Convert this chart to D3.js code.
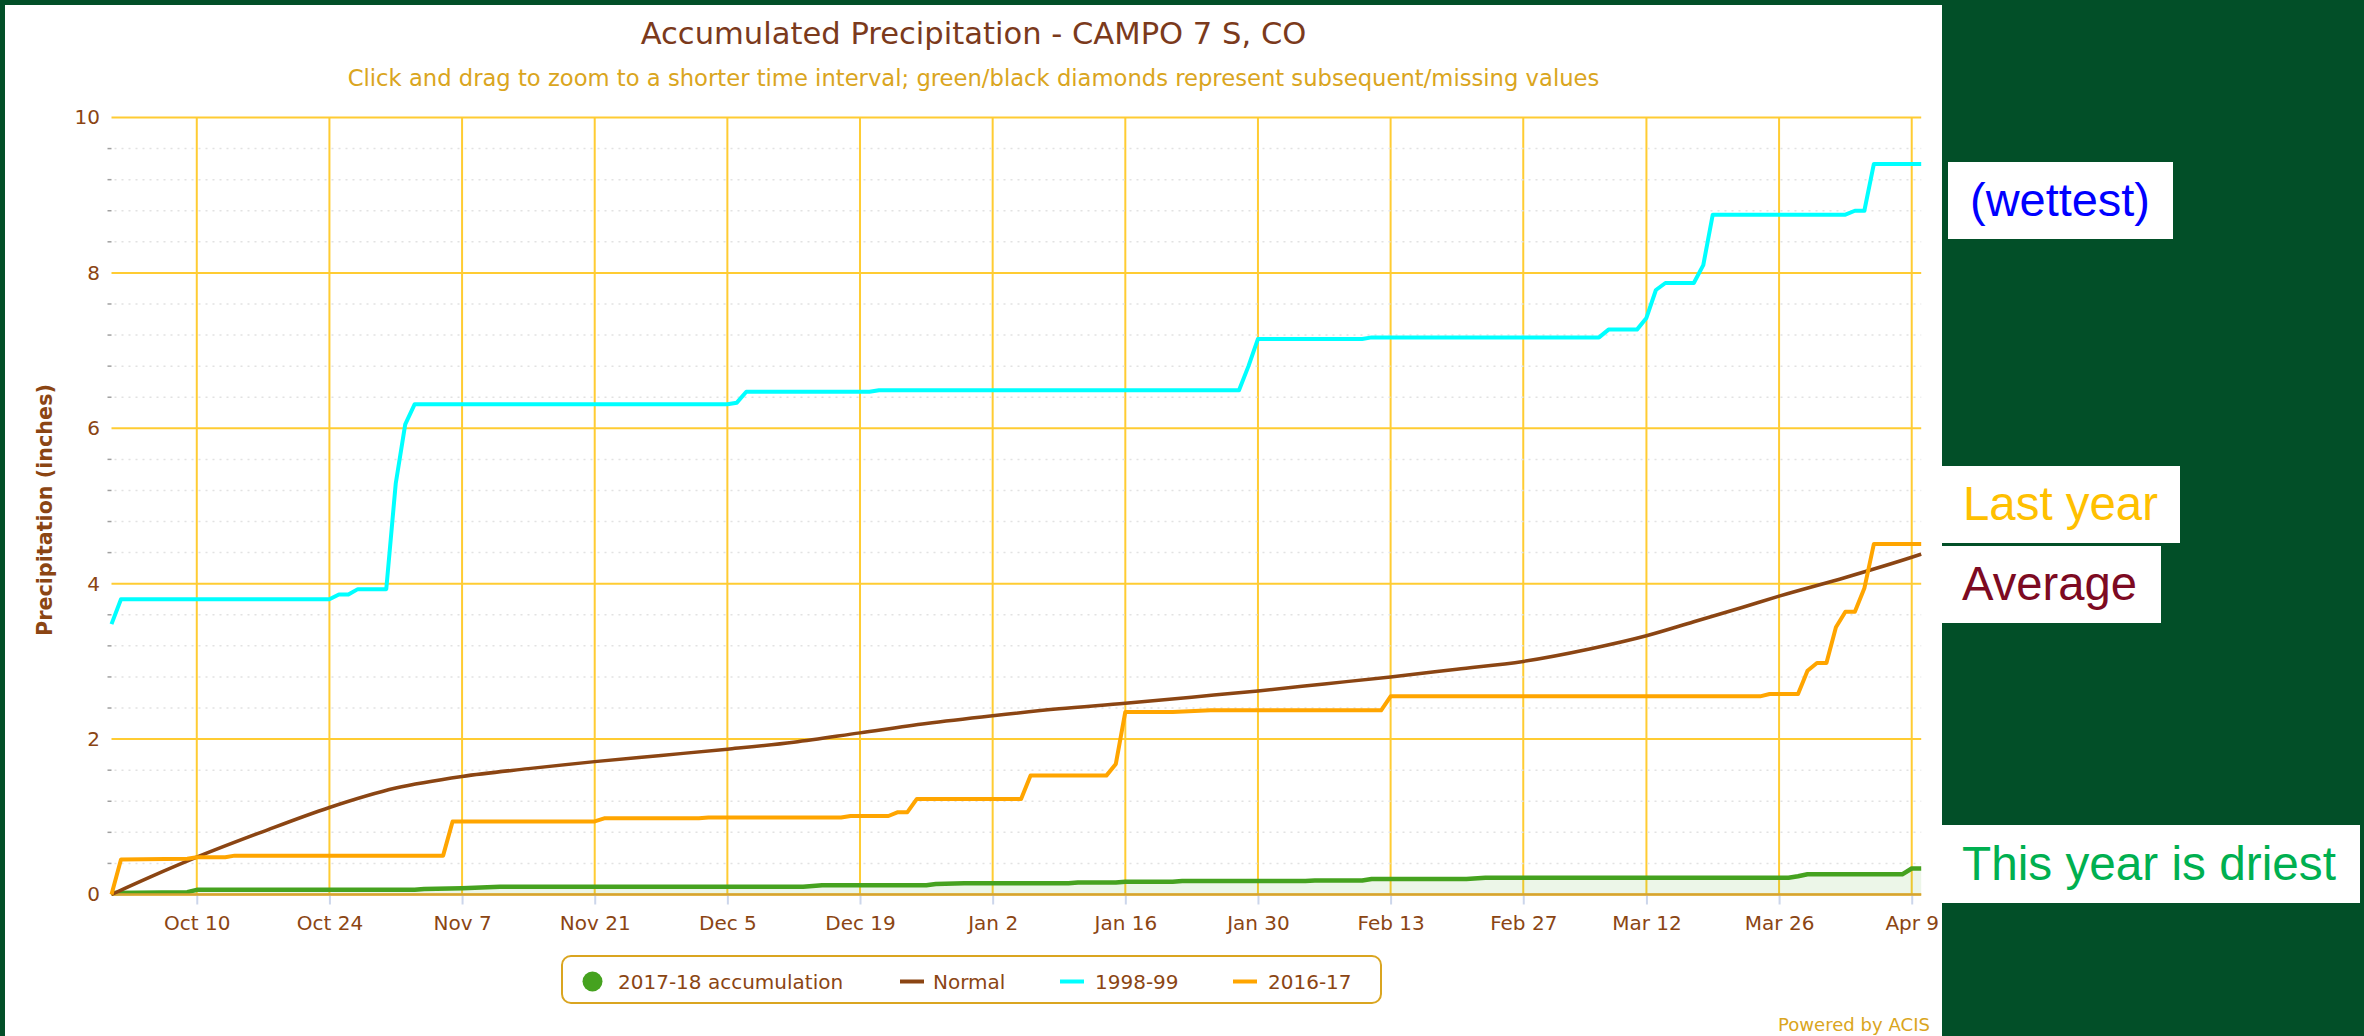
<!DOCTYPE html>
<html><head><meta charset="utf-8">
<script src="https://cdn.jsdelivr.net/npm/d3@7"></script>
<style>html,body{margin:0;padding:0;background:#024f28;} svg{display:block;}</style>
</head><body>
<svg id="c" width="2364" height="1036"></svg>
<script>
// ---------- data ----------
const seasonStart = "2017-10-01";
const seasonEnd   = "2018-04-10";
const tickDates = ["2017-10-10","2017-10-24","2017-11-07","2017-11-21","2017-12-05","2017-12-19",
  "2018-01-02","2018-01-16","2018-01-30","2018-02-13","2018-02-27","2018-03-12","2018-03-26","2018-04-09"];
const yTicks = [0, 2, 4, 6, 8, 10];
const yMinorStep = 0.4;
const seriesNames = ["2017-18 accumulation", "Normal", "1998-99", "2016-17"];

const thisYear = [["2017-10-01",0.02],["2017-10-09",0.03],["2017-10-10",0.06],["2017-11-02",0.06],
  ["2017-11-03",0.07],["2017-11-07",0.08],["2017-11-09",0.09],["2017-11-11",0.10],["2017-12-13",0.10],
  ["2017-12-15",0.12],["2017-12-26",0.12],["2017-12-27",0.135],["2017-12-30",0.145],["2018-01-10",0.145],
  ["2018-01-11",0.155],["2018-01-15",0.155],["2018-01-16",0.165],["2018-01-21",0.165],["2018-01-22",0.175],
  ["2018-02-04",0.175],["2018-02-05",0.18],["2018-02-10",0.18],["2018-02-11",0.20],["2018-02-21",0.20],
  ["2018-02-23",0.215],["2018-03-27",0.215],["2018-03-28",0.235],["2018-03-29",0.26],["2018-04-08",0.26],
  ["2018-04-09",0.335],["2018-04-10",0.335]];

const normal = [["2017-10-01",0.00],["2017-10-05",0.22],["2017-10-10",0.48],["2017-10-17",0.81],
  ["2017-10-24",1.12],["2017-10-31",1.37],["2017-11-07",1.52],["2017-11-14",1.62],["2017-11-21",1.71],
  ["2017-11-28",1.79],["2017-12-05",1.87],["2017-12-12",1.96],["2017-12-19",2.08],["2017-12-26",2.20],
  ["2018-01-02",2.30],["2018-01-09",2.39],["2018-01-16",2.46],["2018-01-23",2.54],["2018-01-30",2.62],
  ["2018-02-06",2.71],["2018-02-13",2.80],["2018-02-20",2.90],["2018-02-27",3.00],["2018-03-06",3.16],
  ["2018-03-12",3.33],["2018-03-17",3.51],["2018-03-22",3.69],["2018-03-26",3.84],["2018-04-02",4.08],
  ["2018-04-09",4.34],["2018-04-10",4.38]];

const wettest = [["2017-10-01",3.48],["2017-10-02",3.80],["2017-10-24",3.80],["2017-10-25",3.86],
  ["2017-10-26",3.86],["2017-10-27",3.93],["2017-10-30",3.93],["2017-10-31",5.29],["2017-11-01",6.05],
  ["2017-11-02",6.31],["2017-12-05",6.31],["2017-12-06",6.33],["2017-12-07",6.47],["2017-12-20",6.47],
  ["2017-12-21",6.49],["2018-01-28",6.49],["2018-01-29",6.80],["2018-01-30",7.15],["2018-02-10",7.15],
  ["2018-02-11",7.17],["2018-03-07",7.17],["2018-03-08",7.27],["2018-03-11",7.27],["2018-03-12",7.42],
  ["2018-03-13",7.78],["2018-03-14",7.87],["2018-03-17",7.87],["2018-03-18",8.10],["2018-03-19",8.75],
  ["2018-04-02",8.75],["2018-04-03",8.80],["2018-04-04",8.80],["2018-04-05",9.40],["2018-04-10",9.40]];

const lastYear = [["2017-10-01",0.00],["2017-10-02",0.45],["2017-10-09",0.46],["2017-10-10",0.48],
  ["2017-10-13",0.48],["2017-10-14",0.50],["2017-11-05",0.50],["2017-11-06",0.94],["2017-11-21",0.94],
  ["2017-11-22",0.98],["2017-12-02",0.98],["2017-12-03",0.99],["2017-12-17",0.99],["2017-12-18",1.01],
  ["2017-12-22",1.01],["2017-12-23",1.06],["2017-12-24",1.06],["2017-12-25",1.23],["2018-01-05",1.23],
  ["2018-01-06",1.53],["2018-01-14",1.53],["2018-01-15",1.68],["2018-01-16",2.35],["2018-01-21",2.35],
  ["2018-01-25",2.37],["2018-02-12",2.37],["2018-02-13",2.55],["2018-03-24",2.55],["2018-03-25",2.58],
  ["2018-03-28",2.58],["2018-03-29",2.88],["2018-03-30",2.98],["2018-03-31",2.98],["2018-04-01",3.44],
  ["2018-04-02",3.64],["2018-04-03",3.64],["2018-04-04",3.94],["2018-04-05",4.51],["2018-04-10",4.51]];

const titleText = "Accumulated Precipitation - CAMPO 7 S, CO";
const subtitleText = "Click and drag to zoom to a shorter time interval; green/black diamonds represent subsequent/missing values";
const yTitleText = "Precipitation (inches)";
const creditText = "Powered by ACIS";
const notes = ["(wettest)", "Last year", "Average", "This year is driest"];

// ---------- setup ----------
const W = 2364, H = 1036;
const FONT = "'DejaVu Sans', 'Lucida Grande', sans-serif";
const BROWN = "#8b4513";
const GOLD = "#daa520";
const svg = d3.select("#c");
svg.append("rect").attr("width", W).attr("height", H).attr("fill", "#024f28");
svg.append("rect").attr("x", 5).attr("y", 5).attr("width", 1937).attr("height", H - 5).attr("fill", "#fff");

const parse = d3.utcParse("%Y-%m-%d");
const x = d3.scaleUtc().domain([parse(seasonStart), parse(seasonEnd)]).range([111.5, 1921.2]);
const y = d3.scaleLinear().domain([0, 10]).range([894.5, 117.5]);
const [X0, X1] = x.range();

function fit(sel, target) {
  const len = sel.node().getComputedTextLength();
  const fs = parseFloat(sel.attr("font-size"));
  sel.attr("font-size", (fs * target / len).toFixed(2));
  return fs * target / len;
}

// ---------- grid ----------
const grid = svg.append("g");
grid.selectAll("line.hmaj").data(yTicks).join("line")
  .attr("x1", X0).attr("x2", X1).attr("y1", d => y(d)).attr("y2", d => y(d))
  .attr("stroke", "#ffcc33").attr("stroke-width", 2);
grid.selectAll("line.v").data(tickDates).join("line")
  .attr("x1", d => x(parse(d))).attr("x2", d => x(parse(d)))
  .attr("y1", y(10)).attr("y2", y(0))
  .attr("stroke", "#ffcc33").attr("stroke-width", 2);
const minors = d3.range(0, 10.001, yMinorStep).filter(v => Math.abs(v / 2 - Math.round(v / 2)) > 0.01);
grid.selectAll("line.hmin").data(minors).join("line")
  .attr("x1", X0 + 3).attr("x2", X1).attr("y1", d => y(d)).attr("y2", d => y(d))
  .attr("stroke", "#e2e2e2").attr("stroke-width", 1.5).attr("stroke-dasharray", "2,5");
grid.selectAll("line.mtick").data(minors).join("line")
  .attr("x1", X0 - 4).attr("x2", X0).attr("y1", d => y(d)).attr("y2", d => y(d))
  .attr("stroke", "#a0a0a0").attr("stroke-width", 1.5);

// ---------- axes ----------
const xAxis = svg.append("g").attr("transform", `translate(0,${y(0)})`)
  .call(d3.axisBottom(x).tickValues(tickDates.map(parse)).tickFormat(d3.utcFormat("%b %-d"))
    .tickSize(10).tickPadding(11));
xAxis.select(".domain").remove();
xAxis.selectAll(".tick line").attr("stroke", "#ccd6eb").attr("stroke-width", 2);
xAxis.selectAll(".tick text").attr("fill", BROWN).attr("font-family", FONT).attr("font-size", 20);

const yAxis = svg.append("g").attr("transform", `translate(${X0},0)`)
  .call(d3.axisLeft(y).tickValues(yTicks).tickSize(0).tickPadding(11.5));
yAxis.select(".domain").remove();
yAxis.selectAll(".tick text").attr("fill", BROWN).attr("font-family", FONT).attr("font-size", 20);

// ---------- series ----------
const pts = arr => arr.map(([d, v]) => [x(parse(d)), y(v)]);
const area = d3.area().x(d => d[0]).y0(y(0)).y1(d => d[1]);
const line = d3.line();
const smooth = d3.line().curve(d3.curveMonotoneX);
svg.append("path").attr("d", area(pts(thisYear))).attr("fill", "#45a21f").attr("fill-opacity", 0.1);
svg.append("path").attr("d", line(pts(thisYear))).attr("fill", "none").attr("stroke", "#45a21f")
  .attr("stroke-width", 4.5).attr("stroke-linejoin", "round");
// x axis line
svg.append("line").attr("x1", X0).attr("x2", X1).attr("y1", y(0)).attr("y2", y(0))
  .attr("stroke", "#d6a331").attr("stroke-width", 2.5);
svg.append("path").attr("d", smooth(pts(normal))).attr("fill", "none").attr("stroke", "#8b4513")
  .attr("stroke-width", 3.5).attr("stroke-linejoin", "round");
svg.append("path").attr("d", line(pts(wettest))).attr("fill", "none").attr("stroke", "#00ffff")
  .attr("stroke-width", 4).attr("stroke-linejoin", "round");
svg.append("path").attr("d", line(pts(lastYear))).attr("fill", "none").attr("stroke", "#ffa500")
  .attr("stroke-width", 4).attr("stroke-linejoin", "round");

// ---------- titles ----------
const t = svg.append("text").attr("x", 973.5).attr("y", 44).attr("text-anchor", "middle")
  .attr("font-family", FONT).attr("font-size", 30).attr("fill", "#7b3a1c").text(titleText);
fit(t, 666);
const st = svg.append("text").attr("x", 973.5).attr("y", 86).attr("text-anchor", "middle")
  .attr("font-family", FONT).attr("font-size", 20).attr("fill", GOLD).text(subtitleText);
fit(st, 1252);
const yt = svg.append("text").attr("transform", "translate(52,510) rotate(-90)").attr("text-anchor", "middle")
  .attr("font-family", FONT).attr("font-weight", "bold").attr("font-size", 20).attr("fill", BROWN).text(yTitleText);
fit(yt, 252);
const cr = svg.append("text").attr("x", 1930).attr("y", 1031).attr("text-anchor", "end")
  .attr("font-family", FONT).attr("font-size", 17).attr("fill", GOLD).text(creditText);
fit(cr, 152);

// ---------- legend ----------
const lg = svg.append("g");
lg.append("rect").attr("x", 562).attr("y", 956).attr("width", 819).attr("height", 47).attr("rx", 9)
  .attr("fill", "#fff").attr("stroke", GOLD).attr("stroke-width", 2);
const legendColors = ["#45a21f", "#8b4513", "#00ffff", "#ffa500"];
const symX = [592.5, 900, 1060, 1233];
const txtX = [618, 933, 1095, 1268];
const ly = 981.5;
seriesNames.forEach((n, i) => {
  if (i === 0) lg.append("circle").attr("cx", symX[i]).attr("cy", ly).attr("r", 10).attr("fill", legendColors[i]);
  else lg.append("line").attr("x1", symX[i]).attr("x2", symX[i] + 24).attr("y1", ly).attr("y2", ly)
    .attr("stroke", legendColors[i]).attr("stroke-width", 4);
  lg.append("text").attr("x", txtX[i]).attr("y", ly + 7).attr("font-family", FONT).attr("font-size", 20)
    .attr("fill", BROWN).text(n);
});

// ---------- right-hand notes ----------
const NFONT = "'Liberation Sans', Arial, Helvetica, sans-serif";
const noteBoxes = [[1948, 162, 225, 77], [1942, 466, 238, 77], [1942, 546, 219, 77], [1942, 825, 418, 78]];
const noteText = [[1970, 216, "#0000ff", 180], [1963, 520, "#ffc000", 195], [1962, 600, "#7d0a22", 175], [1962, 880, "#00b050", 374]];
notes.forEach((n, i) => {
  const [bx, by, bw, bh] = noteBoxes[i];
  svg.append("rect").attr("x", bx).attr("y", by).attr("width", bw).attr("height", bh).attr("fill", "#fff");
  const [tx, ty, col, tw] = noteText[i];
  const tt = svg.append("text").attr("x", tx).attr("y", ty).attr("font-family", NFONT).attr("font-size", 47)
    .attr("fill", col).text(n);
  fit(tt, tw);
});
</script>
</body></html>
